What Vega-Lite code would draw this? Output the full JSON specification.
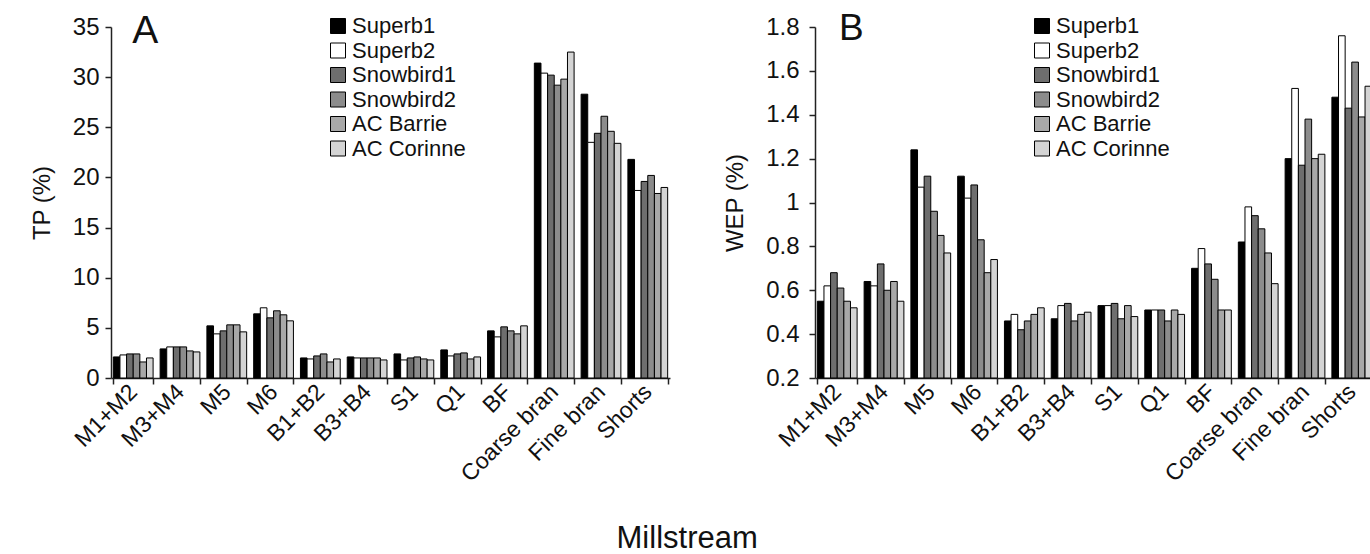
{
  "$schema": "https://vega.github.io/schema/vega-lite/v6.json",
  "background": "white",
  "padding": {"left": 30, "top": 10, "right": 0, "bottom": 0},
  "config": {
    "font": "Liberation Sans",
    "view": {"stroke": null},
    "axis": {
      "grid": false,
      "domainColor": "#222",
      "domainWidth": 1.5,
      "tickColor": "#222",
      "tickWidth": 1.5,
      "tickSize": 6,
      "labelColor": "#111",
      "titleColor": "#111",
      "labelFont": "Liberation Sans",
      "titleFont": "Liberation Sans",
      "labelFontSize": 24,
      "titleFontSize": 24,
      "titleFontWeight": "normal",
      "labelPadding": 6,
      "titlePadding": 18
    },
    "legend": {
      "labelFont": "Liberation Sans",
      "labelFontSize": 22,
      "labelColor": "#111"
    },
    "bar": {"stroke": "black", "strokeWidth": 1}
  },
  "title": {"text": "Millstream", "orient": "bottom", "anchor": "middle", "fontSize": 31, "fontWeight": "normal", "font": "Liberation Sans", "color": "#111", "offset": 38, "dx": -15},
  "spacing": 53,
  "resolve": {
    "scale": {"x": "independent", "y": "independent", "fill": "independent"},
    "legend": {"fill": "independent"}
  },
  "datasets": {
    "tp": [
      {"m": "M1+M2", "c": "Superb1", "v": 2.1}, {"m": "M1+M2", "c": "Superb2", "v": 2.3}, {"m": "M1+M2", "c": "Snowbird1", "v": 2.4}, {"m": "M1+M2", "c": "Snowbird2", "v": 2.4}, {"m": "M1+M2", "c": "AC Barrie", "v": 1.6}, {"m": "M1+M2", "c": "AC Corinne", "v": 2.0},
      {"m": "M3+M4", "c": "Superb1", "v": 2.9}, {"m": "M3+M4", "c": "Superb2", "v": 3.1}, {"m": "M3+M4", "c": "Snowbird1", "v": 3.1}, {"m": "M3+M4", "c": "Snowbird2", "v": 3.1}, {"m": "M3+M4", "c": "AC Barrie", "v": 2.7}, {"m": "M3+M4", "c": "AC Corinne", "v": 2.6},
      {"m": "M5", "c": "Superb1", "v": 5.2}, {"m": "M5", "c": "Superb2", "v": 4.4}, {"m": "M5", "c": "Snowbird1", "v": 4.7}, {"m": "M5", "c": "Snowbird2", "v": 5.3}, {"m": "M5", "c": "AC Barrie", "v": 5.3}, {"m": "M5", "c": "AC Corinne", "v": 4.6},
      {"m": "M6", "c": "Superb1", "v": 6.4}, {"m": "M6", "c": "Superb2", "v": 7.0}, {"m": "M6", "c": "Snowbird1", "v": 6.0}, {"m": "M6", "c": "Snowbird2", "v": 6.7}, {"m": "M6", "c": "AC Barrie", "v": 6.3}, {"m": "M6", "c": "AC Corinne", "v": 5.7},
      {"m": "B1+B2", "c": "Superb1", "v": 2.0}, {"m": "B1+B2", "c": "Superb2", "v": 1.9}, {"m": "B1+B2", "c": "Snowbird1", "v": 2.2}, {"m": "B1+B2", "c": "Snowbird2", "v": 2.4}, {"m": "B1+B2", "c": "AC Barrie", "v": 1.6}, {"m": "B1+B2", "c": "AC Corinne", "v": 1.9},
      {"m": "B3+B4", "c": "Superb1", "v": 2.1}, {"m": "B3+B4", "c": "Superb2", "v": 2.0}, {"m": "B3+B4", "c": "Snowbird1", "v": 2.0}, {"m": "B3+B4", "c": "Snowbird2", "v": 2.0}, {"m": "B3+B4", "c": "AC Barrie", "v": 2.0}, {"m": "B3+B4", "c": "AC Corinne", "v": 1.8},
      {"m": "S1", "c": "Superb1", "v": 2.4}, {"m": "S1", "c": "Superb2", "v": 1.8}, {"m": "S1", "c": "Snowbird1", "v": 2.0}, {"m": "S1", "c": "Snowbird2", "v": 2.1}, {"m": "S1", "c": "AC Barrie", "v": 1.9}, {"m": "S1", "c": "AC Corinne", "v": 1.8},
      {"m": "Q1", "c": "Superb1", "v": 2.8}, {"m": "Q1", "c": "Superb2", "v": 2.2}, {"m": "Q1", "c": "Snowbird1", "v": 2.4}, {"m": "Q1", "c": "Snowbird2", "v": 2.5}, {"m": "Q1", "c": "AC Barrie", "v": 1.9}, {"m": "Q1", "c": "AC Corinne", "v": 2.1},
      {"m": "BF", "c": "Superb1", "v": 4.7}, {"m": "BF", "c": "Superb2", "v": 4.1}, {"m": "BF", "c": "Snowbird1", "v": 5.1}, {"m": "BF", "c": "Snowbird2", "v": 4.7}, {"m": "BF", "c": "AC Barrie", "v": 4.4}, {"m": "BF", "c": "AC Corinne", "v": 5.2},
      {"m": "Coarse bran", "c": "Superb1", "v": 31.4}, {"m": "Coarse bran", "c": "Superb2", "v": 30.4}, {"m": "Coarse bran", "c": "Snowbird1", "v": 30.2}, {"m": "Coarse bran", "c": "Snowbird2", "v": 29.2}, {"m": "Coarse bran", "c": "AC Barrie", "v": 29.8}, {"m": "Coarse bran", "c": "AC Corinne", "v": 32.5},
      {"m": "Fine bran", "c": "Superb1", "v": 28.3}, {"m": "Fine bran", "c": "Superb2", "v": 23.5}, {"m": "Fine bran", "c": "Snowbird1", "v": 24.4}, {"m": "Fine bran", "c": "Snowbird2", "v": 26.1}, {"m": "Fine bran", "c": "AC Barrie", "v": 24.6}, {"m": "Fine bran", "c": "AC Corinne", "v": 23.4},
      {"m": "Shorts", "c": "Superb1", "v": 21.8}, {"m": "Shorts", "c": "Superb2", "v": 18.7}, {"m": "Shorts", "c": "Snowbird1", "v": 19.6}, {"m": "Shorts", "c": "Snowbird2", "v": 20.2}, {"m": "Shorts", "c": "AC Barrie", "v": 18.4}, {"m": "Shorts", "c": "AC Corinne", "v": 19.0}
    ],
    "wep": [
      {"m": "M1+M2", "c": "Superb1", "v": 0.55}, {"m": "M1+M2", "c": "Superb2", "v": 0.62}, {"m": "M1+M2", "c": "Snowbird1", "v": 0.68}, {"m": "M1+M2", "c": "Snowbird2", "v": 0.61}, {"m": "M1+M2", "c": "AC Barrie", "v": 0.55}, {"m": "M1+M2", "c": "AC Corinne", "v": 0.52},
      {"m": "M3+M4", "c": "Superb1", "v": 0.64}, {"m": "M3+M4", "c": "Superb2", "v": 0.62}, {"m": "M3+M4", "c": "Snowbird1", "v": 0.72}, {"m": "M3+M4", "c": "Snowbird2", "v": 0.60}, {"m": "M3+M4", "c": "AC Barrie", "v": 0.64}, {"m": "M3+M4", "c": "AC Corinne", "v": 0.55},
      {"m": "M5", "c": "Superb1", "v": 1.24}, {"m": "M5", "c": "Superb2", "v": 1.07}, {"m": "M5", "c": "Snowbird1", "v": 1.12}, {"m": "M5", "c": "Snowbird2", "v": 0.96}, {"m": "M5", "c": "AC Barrie", "v": 0.85}, {"m": "M5", "c": "AC Corinne", "v": 0.77},
      {"m": "M6", "c": "Superb1", "v": 1.12}, {"m": "M6", "c": "Superb2", "v": 1.02}, {"m": "M6", "c": "Snowbird1", "v": 1.08}, {"m": "M6", "c": "Snowbird2", "v": 0.83}, {"m": "M6", "c": "AC Barrie", "v": 0.68}, {"m": "M6", "c": "AC Corinne", "v": 0.74},
      {"m": "B1+B2", "c": "Superb1", "v": 0.46}, {"m": "B1+B2", "c": "Superb2", "v": 0.49}, {"m": "B1+B2", "c": "Snowbird1", "v": 0.42}, {"m": "B1+B2", "c": "Snowbird2", "v": 0.46}, {"m": "B1+B2", "c": "AC Barrie", "v": 0.49}, {"m": "B1+B2", "c": "AC Corinne", "v": 0.52},
      {"m": "B3+B4", "c": "Superb1", "v": 0.47}, {"m": "B3+B4", "c": "Superb2", "v": 0.53}, {"m": "B3+B4", "c": "Snowbird1", "v": 0.54}, {"m": "B3+B4", "c": "Snowbird2", "v": 0.46}, {"m": "B3+B4", "c": "AC Barrie", "v": 0.49}, {"m": "B3+B4", "c": "AC Corinne", "v": 0.50},
      {"m": "S1", "c": "Superb1", "v": 0.53}, {"m": "S1", "c": "Superb2", "v": 0.53}, {"m": "S1", "c": "Snowbird1", "v": 0.54}, {"m": "S1", "c": "Snowbird2", "v": 0.47}, {"m": "S1", "c": "AC Barrie", "v": 0.53}, {"m": "S1", "c": "AC Corinne", "v": 0.48},
      {"m": "Q1", "c": "Superb1", "v": 0.51}, {"m": "Q1", "c": "Superb2", "v": 0.51}, {"m": "Q1", "c": "Snowbird1", "v": 0.51}, {"m": "Q1", "c": "Snowbird2", "v": 0.46}, {"m": "Q1", "c": "AC Barrie", "v": 0.51}, {"m": "Q1", "c": "AC Corinne", "v": 0.49},
      {"m": "BF", "c": "Superb1", "v": 0.70}, {"m": "BF", "c": "Superb2", "v": 0.79}, {"m": "BF", "c": "Snowbird1", "v": 0.72}, {"m": "BF", "c": "Snowbird2", "v": 0.65}, {"m": "BF", "c": "AC Barrie", "v": 0.51}, {"m": "BF", "c": "AC Corinne", "v": 0.51},
      {"m": "Coarse bran", "c": "Superb1", "v": 0.82}, {"m": "Coarse bran", "c": "Superb2", "v": 0.98}, {"m": "Coarse bran", "c": "Snowbird1", "v": 0.94}, {"m": "Coarse bran", "c": "Snowbird2", "v": 0.88}, {"m": "Coarse bran", "c": "AC Barrie", "v": 0.77}, {"m": "Coarse bran", "c": "AC Corinne", "v": 0.63},
      {"m": "Fine bran", "c": "Superb1", "v": 1.20}, {"m": "Fine bran", "c": "Superb2", "v": 1.52}, {"m": "Fine bran", "c": "Snowbird1", "v": 1.17}, {"m": "Fine bran", "c": "Snowbird2", "v": 1.38}, {"m": "Fine bran", "c": "AC Barrie", "v": 1.20}, {"m": "Fine bran", "c": "AC Corinne", "v": 1.22},
      {"m": "Shorts", "c": "Superb1", "v": 1.48}, {"m": "Shorts", "c": "Superb2", "v": 1.76}, {"m": "Shorts", "c": "Snowbird1", "v": 1.43}, {"m": "Shorts", "c": "Snowbird2", "v": 1.64}, {"m": "Shorts", "c": "AC Barrie", "v": 1.39}, {"m": "Shorts", "c": "AC Corinne", "v": 1.53}
    ]
  },
  "hconcat": [
    {
      "width": 559,
      "height": 351,
      "layer": [
        {
          "data": {"name": "tp"},
          "mark": {"type": "bar"},
          "encoding": {
            "x": {
              "field": "m", "type": "nominal",
              "sort": ["M1+M2", "M3+M4", "M5", "M6", "B1+B2", "B3+B4", "S1", "Q1", "BF", "Coarse bran", "Fine bran", "Shorts"],
              "scale": {"domain": ["M1+M2", "M3+M4", "M5", "M6", "B1+B2", "B3+B4", "S1", "Q1", "BF", "Coarse bran", "Fine bran", "Shorts"], "paddingInner": 0.15, "paddingOuter": 0.05},
              "axis": {"title": null, "labelAngle": -45, "labelAlign": "right", "labelBaseline": "middle", "labelFontSize": 23, "tickBand": "extent", "labelPadding": 4}
            },
            "xOffset": {"field": "c", "type": "nominal", "sort": ["Superb1", "Superb2", "Snowbird1", "Snowbird2", "AC Barrie", "AC Corinne"]},
            "y": {
              "field": "v", "type": "quantitative",
              "scale": {"domain": [0, 35], "nice": false},
              "axis": {"title": "TP (%)", "values": [0, 5, 10, 15, 20, 25, 30, 35]}
            },
            "fill": {
              "field": "c", "type": "nominal",
              "sort": ["Superb1", "Superb2", "Snowbird1", "Snowbird2", "AC Barrie", "AC Corinne"],
              "scale": {"domain": ["Superb1", "Superb2", "Snowbird1", "Snowbird2", "AC Barrie", "AC Corinne"], "range": ["#000000", "#ffffff", "#6e6e6e", "#8c8c8c", "#a8a8a8", "#d4d4d4"]},
              "legend": {"title": null, "orient": "none", "legendX": 216, "legendY": -12, "symbolType": "square", "symbolSize": 225, "symbolStrokeColor": "black", "symbolStrokeWidth": 1, "symbolOpacity": 1, "labelFontSize": 22, "rowPadding": 2.5, "labelOffset": 3, "padding": 0}
            }
          }
        },
        {
          "data": {"values": [{"panel": "A", "m": "M1+M2", "y": 33.4}]},
          "mark": {"type": "text", "fontSize": 39, "font": "Liberation Sans", "align": "center", "baseline": "alphabetic", "dx": 12, "color": "#111"},
          "encoding": {
            "x": {"field": "m", "type": "nominal", "sort": ["M1+M2", "M3+M4", "M5", "M6", "B1+B2", "B3+B4", "S1", "Q1", "BF", "Coarse bran", "Fine bran", "Shorts"]},
            "y": {"field": "y", "type": "quantitative"},
            "text": {"field": "panel"}
          }
        }
      ]
    },
    {
      "width": 559,
      "height": 351,
      "layer": [
        {
          "data": {"name": "wep"},
          "mark": {"type": "bar"},
          "encoding": {
            "x": {
              "field": "m", "type": "nominal",
              "sort": ["M1+M2", "M3+M4", "M5", "M6", "B1+B2", "B3+B4", "S1", "Q1", "BF", "Coarse bran", "Fine bran", "Shorts"],
              "scale": {"domain": ["M1+M2", "M3+M4", "M5", "M6", "B1+B2", "B3+B4", "S1", "Q1", "BF", "Coarse bran", "Fine bran", "Shorts"], "paddingInner": 0.15, "paddingOuter": 0.05},
              "axis": {"title": null, "labelAngle": -45, "labelAlign": "right", "labelBaseline": "middle", "labelFontSize": 23, "tickBand": "extent", "labelPadding": 4}
            },
            "xOffset": {"field": "c", "type": "nominal", "sort": ["Superb1", "Superb2", "Snowbird1", "Snowbird2", "AC Barrie", "AC Corinne"]},
            "y": {
              "field": "v", "type": "quantitative",
              "scale": {"domain": [0.2, 1.8], "nice": false, "zero": false},
              "axis": {"title": "WEP (%)", "values": [0.2, 0.4, 0.6, 0.8, 1, 1.2, 1.4, 1.6, 1.8], "format": "~g", "labelPadding": 10}
            },
            "y2": {"datum": 0.2},
            "fill": {
              "field": "c", "type": "nominal",
              "sort": ["Superb1", "Superb2", "Snowbird1", "Snowbird2", "AC Barrie", "AC Corinne"],
              "scale": {"domain": ["Superb1", "Superb2", "Snowbird1", "Snowbird2", "AC Barrie", "AC Corinne"], "range": ["#000000", "#ffffff", "#6e6e6e", "#8c8c8c", "#a8a8a8", "#d4d4d4"]},
              "legend": {"title": null, "orient": "none", "legendX": 216, "legendY": -12, "symbolType": "square", "symbolSize": 225, "symbolStrokeColor": "black", "symbolStrokeWidth": 1, "symbolOpacity": 1, "labelFontSize": 22, "rowPadding": 2.5, "labelOffset": 3, "padding": 0}
            }
          }
        },
        {
          "data": {"values": [{"panel": "B", "m": "M1+M2", "y": 1.74}]},
          "mark": {"type": "text", "fontSize": 37, "font": "Liberation Sans", "align": "center", "baseline": "alphabetic", "dx": 14, "color": "#111"},
          "encoding": {
            "x": {"field": "m", "type": "nominal", "sort": ["M1+M2", "M3+M4", "M5", "M6", "B1+B2", "B3+B4", "S1", "Q1", "BF", "Coarse bran", "Fine bran", "Shorts"]},
            "y": {"field": "y", "type": "quantitative"},
            "text": {"field": "panel"}
          }
        }
      ]
    }
  ]
}
